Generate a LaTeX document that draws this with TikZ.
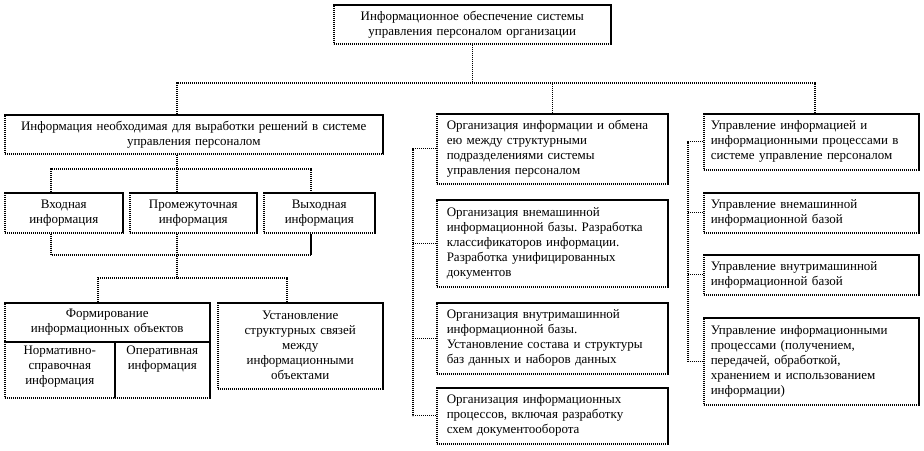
\documentclass[tikz,border=0pt]{standalone}
\usepackage{fontspec}
\setmainfont{Liberation Serif}
\usepackage{tikz}
\usetikzlibrary{arrows,backgrounds,calc,positioning,fit}
\frenchspacing

\tikzset{
  blok/.style={draw, dash pattern=on 1.4pt off 0.6pt, line width=1.5pt, anchor=north west, inner xsep=4pt, inner ysep=0pt, align=center},
  blokl/.style={blok, align=left, inner xsep=10pt},
  link/.style={dash pattern=on 1.4pt off 0.6pt, line width=1.2pt}
}

\begin{document}
\begin{tikzpicture}[x=1pt, y=-1pt, font=\fontsize{13}{15}\selectfont]
\useasboundingbox[fill=white] (0,0) rectangle (924,450);

\node[blok, text width=269pt, minimum height=39pt] (glav) at (333,4)
  {Информационное обеспечение системы\\управления персоналом организации};

\node[blok, text width=370pt, minimum height=39pt] (infn) at (4,114)
  {Информация необходимая для выработки решений в системе\\управления персоналом};
\node[blok, text width=110pt, minimum height=40pt] (vh) at (4,192) {Входная\\информация};
\node[blok, text width=119pt, minimum height=40pt] (prom) at (129,192) {Промежуточная\\информация};
\node[blok, text width=103pt, minimum height=40pt] (vyh) at (263,192) {Выходная\\информация};
\node[blok, text width=197pt, minimum height=39pt] (form) at (4,302) {Формирование\\информационных объектов};
\node[blok, text width=102pt, minimum height=56pt, text depth=40pt] (norm) at (4,341) {Нормативно-\\справочная\\информация};
\node[blok, text width=87pt, minimum height=56pt, text depth=40pt] (oper) at (114,341) {Оперативная\\информация};
\node[blok, text width=157pt, minimum height=86pt] (ust) at (217,302)
  {Установление\\структурных связей\\между\\информационными\\объектами};

\node[blokl, text width=211pt, minimum height=70pt] (org1) at (436,113)
  {Организация информации и обмена\\ею между структурными\\подразделениями системы\\управления персоналом};
\node[blokl, text width=211pt, minimum height=87pt] (org2) at (436,199)
  {Организация внемашинной\\информационной базы. Разработка\\классификаторов информации.\\Разработка унифицированных\\документов};
\node[blokl, text width=211pt, minimum height=71pt] (org3) at (436,302)
  {Организация внутримашинной\\информационной базы.\\Установление состава и структуры\\баз данных и наборов данных};
\node[blokl, text width=211pt, minimum height=56pt] (org4) at (436,387)
  {Организация информационных\\процессов, включая разработку\\схем документооборота};

\node[blokl, text width=201pt, minimum height=56pt, inner xsep=7pt] (upr1) at (703,113)
  {Управление информацией и\\информационными процессами в\\системе управление персоналом};
\node[blokl, text width=201pt, minimum height=40pt, inner xsep=7pt] (upr2) at (703,192)
  {Управление внемашинной\\информационной базой};
\node[blokl, text width=201pt, minimum height=40pt, inner xsep=7pt] (upr3) at (703,254)
  {Управление внутримашинной\\информационной базой};
\node[blokl, text width=201pt, minimum height=87pt, inner xsep=7pt] (upr4) at (703,317)
  {Управление информационными\\процессами (получением,\\передачей, обработкой,\\хранением и использованием\\информации)};

\coordinate (k1) at (177,83);
\coordinate (k2) at (815,83);
\draw[link] (glav.south) -- (glav.south |- k1);
\draw[link] (k1 |- infn.north) -- (k1) -- (k2) -- (k2 |- upr1.north);
\draw[link] (org1.north) -- (org1.north |- k1);

\coordinate (k3) at (51,169);
\coordinate (k4) at (311,169);
\draw[link] (k1 |- infn.south) -- (k1 |- prom.north);
\draw[link] (k3 |- vh.north) -- (k3) -- (k4) -- (k4 |- vyh.north);

\coordinate (k5) at (51,255);
\coordinate (k6) at (311,255);
\coordinate (k7) at (98,278);
\coordinate (k8) at (287,278);
\draw[link] (k5 |- vh.south) -- (k5) -- (k6) -- (k6 |- vyh.south);
\draw[link] (k1 |- prom.south) -- (k1 |- k7);
\draw[link] (k7 |- form.north) -- (k7) -- (k8) -- (k8 |- ust.north);

\coordinate (k9) at (413,0);
\draw[link] (org1.west) -| (k9 |- org4.west) -- (org4.west);
\foreach \n in {org2,org3}
  \draw[link] (k9 |- \n.west) -- (\n.west);

\coordinate (k10) at (688,0);
\draw[link] (upr1.west) -| (k10 |- upr4.west) -- (upr4.west);
\foreach \n in {upr2,upr3}
  \draw[link] (k10 |- \n.west) -- (\n.west);
\end{tikzpicture}
\end{document}
